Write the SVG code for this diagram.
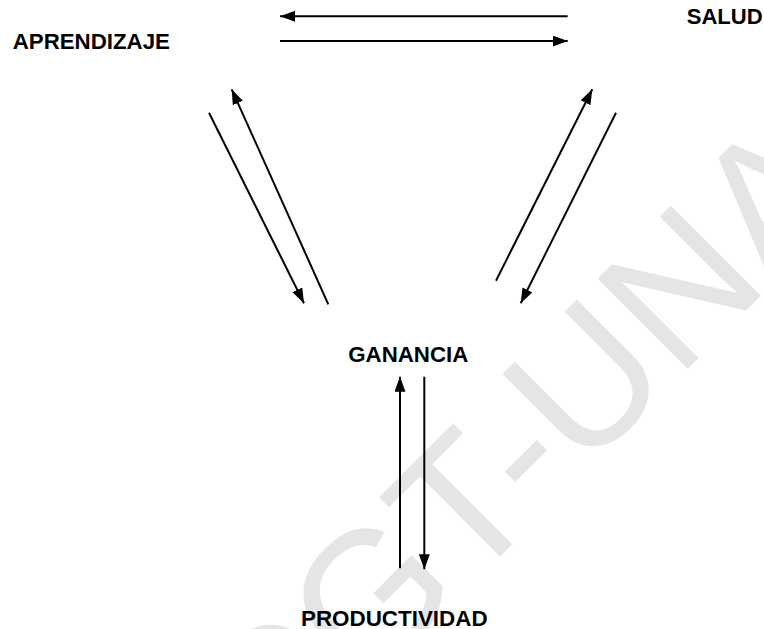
<svg xmlns="http://www.w3.org/2000/svg" width="764" height="629" viewBox="0 0 764 629">
  <style>
    .lbl { font-family: "Liberation Sans", Arial, sans-serif; font-weight: bold; font-size: 21.5px; fill: #000; }
    .wm { font-family: "Liberation Sans", Arial, sans-serif; font-size: 185px; fill: #e5e5e5; }
    .conn { stroke: #000; stroke-width: 2; fill: none; marker-end: url(#ah); }
  </style>
  <defs>
    <marker id="ah" markerUnits="userSpaceOnUse" markerWidth="15" markerHeight="11" refX="15" refY="5.5" orient="auto" viewBox="0 0 15 11">
      <path d="M0,0 L15,5.5 L0,11 z" fill="#000"/>
    </marker>
  </defs>
  <rect width="764" height="629" fill="#fff"/>
  <text class="wm" x="270" y="786.5" transform="rotate(-45 270 786.5)">CGT-UNA</text>

  <g id="connectors">
    <line class="conn" x1="567.7" y1="16.3" x2="280" y2="16.3"/>
    <line class="conn" x1="280" y1="41" x2="567.7" y2="41"/>
    <line class="conn" x1="209" y1="112.7" x2="304" y2="303.3"/>
    <line class="conn" x1="328.3" y1="304.3" x2="231.7" y2="89.3"/>
    <line class="conn" x1="496" y1="280.7" x2="592.3" y2="89.3"/>
    <line class="conn" x1="616" y1="112.7" x2="520.7" y2="303.3"/>
    <line class="conn" x1="400" y1="568.3" x2="400" y2="376.7"/>
    <line class="conn" x1="424.3" y1="376.7" x2="424.3" y2="569.3"/>
  </g>

  <g id="aprendizaje"><text class="lbl" x="12.7" y="49.3" textLength="157.3" lengthAdjust="spacingAndGlyphs">APRENDIZAJE</text></g>
  <g id="salud"><text class="lbl" x="686.7" y="24.3" textLength="76" lengthAdjust="spacingAndGlyphs">SALUD</text></g>
  <g id="ganancia"><text class="lbl" x="348.3" y="361.7" textLength="120" lengthAdjust="spacingAndGlyphs">GANANCIA</text></g>
  <g id="productividad"><text class="lbl" x="301" y="625.5" textLength="186.6" lengthAdjust="spacingAndGlyphs">PRODUCTIVIDAD</text></g>
</svg>
